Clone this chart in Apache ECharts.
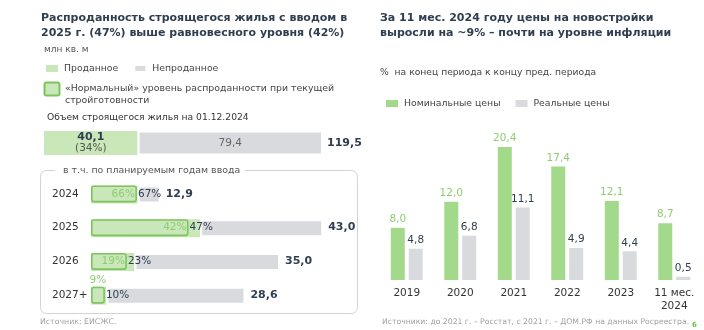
<!DOCTYPE html>
<html><head><meta charset="utf-8">
<script src="https://cdn.jsdelivr.net/npm/echarts@6/dist/echarts.min.js"></script>
<style>html,body{margin:0;padding:0;background:#fff}#c{width:704px;height:330px}</style>
</head><body><div id="c"></div>
<script>
// ---- data ----
var topSold = 40.1, topUnsold = 79.4, topTotal = 119.5;
var years = ['2024', '2025', '2026', '2027+'];
var totals = [12.9, 43.0, 35.0, 28.6];
var soldPct = [67, 47, 23, 10];
var normalPct = [66, 42, 19, 9];
var priceCats = ['2019', '2020', '2021', '2022', '2023', '11 мес.\n2024'];
var nominal = [8.0, 12.0, 20.4, 17.4, 12.1, 8.7];
var real = [4.8, 6.8, 11.1, 4.9, 4.4, 0.5];

// ---- styles ----
var FONT = 'DejaVu Sans';
var DARK = '#2f3e50';
var LIGHT_GREEN = '#c9e7b9';
var OUTLINE = '#7dc45e';
var GRAY = '#d9dadd';
var BAR_GREEN = '#a3d98b';
var LABEL_GREEN = '#8fcc73';
function fmt(v) { return v.toFixed(1).replace('.', ','); }

var soldVals = totals.map(function (t, i) { return +(t * soldPct[i] / 100).toFixed(2); });
var unsoldVals = totals.map(function (t, i) { return +(t - soldVals[i]).toFixed(2); });
var normalVals = totals.map(function (t, i) { return +(t * normalPct[i] / 100).toFixed(2); });

var chart = echarts.init(document.getElementById('c'), null, { renderer: 'canvas' });

function ttl(text, left, top, size, color, bold, lh) {
  return { text: text, left: left, top: top, padding: 0,
    textStyle: { fontFamily: FONT, fontSize: size, fontWeight: bold ? 'bold' : 'normal', color: color, lineHeight: lh || undefined } };
}

var option = {
  animation: false,
  textStyle: { fontFamily: FONT },
  title: [
    ttl('Распроданность строящегося жилья с вводом в\n2025 г. (47%) выше равновесного уровня (42%)', 41, 11, 11, DARK, true, 15),
    ttl('За 11 мес. 2024 году цены на новостройки\nвыросли на ~9% – почти на уровне инфляции', 380, 11, 11, DARK, true, 15),
    ttl('млн кв. м', 44, 45, 9, '#555'),
    ttl('Объем строящегося жилья на 01.12.2024', 47, 113, 9.2, '#333'),
    ttl('%  на конец периода к концу пред. периода', 380, 68, 9.2, '#444'),
    ttl('Источник: ЕИСЖС.', 40, 318, 7.8, '#a0a0a0'),
    ttl('Источники: до 2021 г. – Росстат, с 2021 г. – ДОМ.РФ на данных Росреестра.', 382, 318, 7.7, '#a0a0a0'),
    ttl('6', 692, 322, 7, '#6cbf4a', true)
  ],
  legend: [
    { data: ['Проданное', 'Непроданное'], left: 46, top: 64, padding: 0, icon: 'rect', itemWidth: 12, itemHeight: 7, itemGap: 15, selectedMode: false,
      textStyle: { fontFamily: FONT, fontSize: 9.3, color: '#444', padding: [0, 0, 0, 1] } },
    { data: ['Номинальные цены', 'Реальные цены'], left: 386, top: 99, padding: 0, icon: 'rect', itemWidth: 12, itemHeight: 7, itemGap: 15, selectedMode: false,
      textStyle: { fontFamily: FONT, fontSize: 9.3, color: '#444', padding: [0, 0, 0, 1] } }
  ],
  graphic: [
    { type: 'rect', shape: { x: 44.5, y: 82.5, width: 15, height: 13, r: 2 }, style: { fill: LIGHT_GREEN, stroke: OUTLINE, lineWidth: 2 } },
    { type: 'text', left: 65, top: 83, style: { text: '«Нормальный» уровень распроданности при текущей\nстройготовности', font: '9.4px "DejaVu Sans"', fill: '#444', lineHeight: 12 } },
    { type: 'rect', shape: { x: 40.5, y: 170.5, width: 317, height: 143, r: 6 }, style: { fill: 'none', stroke: '#d3d3d3', lineWidth: 1 }, z: 0 },
    { type: 'rect', shape: { x: 55, y: 164, width: 190, height: 12 }, style: { fill: '#fff' }, z: 1 },
    { type: 'text', left: 63, top: 166, z: 2, style: { text: 'в т.ч. по планируемым годам ввода', font: '9.4px "DejaVu Sans"', fill: '#555' } }
  ],
  grid: [
    { left: 44, top: 131, width: 279, height: 24 },
    { left: 91, top: 177, width: 243, height: 135 },
    { left: 380, top: 143, width: 321, height: 137 }
  ],
  xAxis: [
    { gridIndex: 0, type: 'value', min: 0, max: topTotal, show: false },
    { gridIndex: 1, type: 'value', min: 0, max: 45, show: false },
    { gridIndex: 2, type: 'category', data: priceCats, axisLine: { show: false }, axisTick: { show: false },
      axisLabel: { fontFamily: FONT, fontSize: 10.5, color: '#333', margin: 7, lineHeight: 13 } }
  ],
  yAxis: [
    { gridIndex: 0, type: 'category', data: ['total'], show: false },
    { gridIndex: 1, type: 'category', data: years, inverse: true, axisLine: { show: false }, axisTick: { show: false },
      axisLabel: { fontFamily: FONT, fontSize: 10.5, color: '#333', align: 'left', margin: 39 } },
    { gridIndex: 2, type: 'value', min: 0, max: 21, show: false }
  ],
  series: [
    // top bar
    { name: 'Проданное', type: 'bar', xAxisIndex: 0, yAxisIndex: 0, stack: 't', barWidth: 25, barGap: '-100%', data: [topSold],
      itemStyle: { color: LIGHT_GREEN },
      label: { show: true, position: 'inside', formatter: function (p) { return '{b|' + fmt(p.value) + '}\n{n|(' + Math.round(p.value / topTotal * 100) + '%)}'; },
        rich: { b: { fontFamily: FONT, fontSize: 11, fontWeight: 'bold', color: DARK, lineHeight: 11 }, n: { fontFamily: FONT, fontSize: 10.5, color: '#555', lineHeight: 11 } } } },
    { name: 'Непроданное', type: 'bar', xAxisIndex: 0, yAxisIndex: 0, stack: 't', barWidth: 25, barGap: '-100%', data: [topUnsold],
      itemStyle: { color: GRAY, borderColor: '#fff', borderWidth: 2 },
      label: { show: true, position: 'inside', formatter: function (p) { return fmt(p.value); }, fontFamily: FONT, fontSize: 10.5, color: '#666' } },
    { name: 'topTotal', type: 'bar', xAxisIndex: 0, yAxisIndex: 0, barWidth: 25, barGap: '-100%', data: [topTotal], z: 1,
      itemStyle: { color: 'rgba(0,0,0,0)' }, silent: true,
      label: { show: true, position: 'right', distance: 4, formatter: function (p) { return fmt(p.value); }, fontFamily: FONT, fontSize: 11, fontWeight: 'bold', color: DARK } },
    // breakdown
    { name: 'Проданное', type: 'bar', xAxisIndex: 1, yAxisIndex: 1, stack: 'b', barWidth: 18, barGap: '-100%', data: soldVals,
      itemStyle: { color: LIGHT_GREEN } },
    { name: 'Непроданное', type: 'bar', xAxisIndex: 1, yAxisIndex: 1, stack: 'b', barWidth: 18, barGap: '-100%', data: unsoldVals,
      itemStyle: { color: GRAY, borderColor: '#fff', borderWidth: 2 } },
    { name: 'normal', type: 'bar', xAxisIndex: 1, yAxisIndex: 1, barWidth: 17, barGap: '-100%', z: 3,
      data: normalVals.map(function (v, i) {
        var d = { value: v };
        if (normalPct[i] < 12) d.label = { position: 'top', distance: 1 };
        return d;
      }),
      itemStyle: { color: 'rgba(0,0,0,0)', borderColor: OUTLINE, borderWidth: 1.6, borderRadius: 2 },
      label: { show: true, position: 'insideRight', distance: 2, formatter: function (p) { return normalPct[p.dataIndex] + '%'; },
        fontFamily: FONT, fontSize: 10.5, color: LABEL_GREEN } },
    { name: 'soldLbl', type: 'bar', xAxisIndex: 1, yAxisIndex: 1, barWidth: 17, barGap: '-100%', z: 4, data: normalVals,
      itemStyle: { color: 'rgba(0,0,0,0)' }, silent: true,
      label: { show: true, position: 'right', distance: 1, formatter: function (p) { return soldPct[p.dataIndex] + '%'; },
        fontFamily: FONT, fontSize: 10.5, color: DARK } },
    { name: 'totLbl', type: 'bar', xAxisIndex: 1, yAxisIndex: 1, barWidth: 17, barGap: '-100%', z: 1, data: totals,
      itemStyle: { color: 'rgba(0,0,0,0)' }, silent: true,
      label: { show: true, position: 'right', distance: 5, formatter: function (p) { return fmt(p.value); },
        fontFamily: FONT, fontSize: 11, fontWeight: 'bold', color: DARK } },
    // right chart
    { name: 'Номинальные цены', type: 'bar', xAxisIndex: 2, yAxisIndex: 2, barWidth: 14, barGap: '28%', data: nominal,
      itemStyle: { color: BAR_GREEN },
      label: { show: true, position: 'top', distance: 3, formatter: function (p) { return fmt(p.value); }, fontFamily: FONT, fontSize: 10.5, color: LABEL_GREEN } },
    { name: 'Реальные цены', type: 'bar', xAxisIndex: 2, yAxisIndex: 2, barWidth: 14, barGap: '28%', data: real,
      itemStyle: { color: GRAY },
      label: { show: true, position: 'top', distance: 3, formatter: function (p) { return fmt(p.value); }, fontFamily: FONT, fontSize: 10.5, color: DARK } }
  ]
};
chart.setOption(option);
</script>
</body></html>
